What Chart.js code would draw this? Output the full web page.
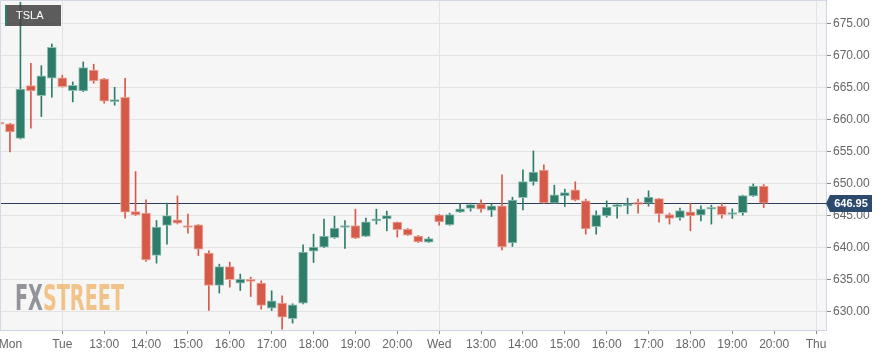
<!DOCTYPE html>
<html><head><meta charset="utf-8">
<script src="https://cdn.jsdelivr.net/npm/chart.js@4.4.1/dist/chart.umd.min.js"></script>
<style>html,body{margin:0;padding:0;background:#fff;overflow:hidden}canvas{display:block}</style>
</head><body>
<canvas id="c" width="891" height="356"></canvas>
<script>
// ---- data (15-minute candles, slot index = position on the ordinal time axis) ----
const symbol = 'TSLA';
const lastPrice = 646.95;
const openP  = [659.40,659.36,657.10,665.35,663.79,666.51,666.55,664.57,664.52,667.80,
                666.40,662.85,663.53,645.64,645.39,638.76,643.45,644.34,643.45,643.56,
                639.13,634.06,637.04,634.44,634.96,634.44,630.53,631.31,628.86,631.31,
                639.45,640.07,641.57,643.14,643.45,641.73,644.18,644.50,643.98,642.89,
                641.79,640.85,645.12,643.56,645.55,646.11,646.84,645.80,646.53,640.74,
                647.83,650.29,652.12,646.95,648.10,649.03,647.31,643.29,644.97,646.42,
                646.53,646.90,646.95,647.67,645.17,644.70,645.59,645.08,646.00,646.48,
                645.18,645.48,648.10,649.61];
const highP  = [659.75,659.45,678.40,668.85,668.48,671.87,666.98,665.93,669.06,668.70,
                666.50,665.10,666.50,651.90,647.47,644.23,646.95,648.10,645.23,643.60,
                639.49,637.41,637.72,635.85,635.38,634.80,633.24,632.45,631.20,640.43,
                642.10,644.45,644.92,644.23,646.01,644.61,646.01,645.70,644.00,643.00,
                641.90,641.64,645.20,645.39,646.84,646.95,647.47,646.84,651.38,647.89,
                652.16,655.13,652.94,649.77,649.14,650.29,647.58,645.75,647.31,646.95,
                647.74,647.58,648.88,647.70,645.39,646.17,646.95,646.53,646.64,646.95,
                646.06,648.20,649.97,649.86];
const lowP   = [658.20,654.98,657.00,658.69,660.50,663.53,665.10,662.80,664.40,665.72,
                662.60,662.28,644.61,645.00,637.82,637.57,640.54,643.70,642.26,638.76,
                630.15,632.88,633.81,633.28,632.34,630.37,630.15,627.24,628.18,631.20,
                637.66,640.00,641.42,639.85,641.40,641.70,643.67,642.62,641.64,641.90,
                640.80,640.80,643.51,643.50,645.50,645.70,645.55,644.86,639.65,640.17,
                645.91,649.77,646.90,646.90,646.42,647.30,642.10,642.10,644.76,644.61,
                645.28,645.39,646.48,643.98,643.67,644.29,642.62,644.19,643.67,644.61,
                644.55,645.08,648.00,646.27];
const closeP = [659.30,658.11,664.80,664.52,666.87,671.36,665.19,665.41,668.16,666.08,
                662.91,663.00,645.55,645.12,638.08,643.20,645.01,643.83,643.14,639.76,
                634.06,637.04,634.96,635.07,634.70,630.94,631.67,629.12,631.05,639.29,
                640.07,641.79,643.04,643.35,641.48,644.03,644.45,645.01,642.82,641.95,
                640.90,641.42,644.03,645.17,646.06,646.73,646.02,646.53,640.12,647.42,
                650.33,651.80,647.00,648.25,648.61,647.42,642.93,645.12,646.33,646.64,
                646.80,646.75,647.89,645.28,644.55,645.80,644.97,646.02,646.22,645.17,
                645.42,648.14,649.61,646.95];
const tickSlots  = [0,6,10,14,18,22,26,30,34,38,42,46,50,54,58,62,66,70,74,78];
const tickLabels = ['Mon','Tue','13:00','14:00','15:00','16:00','17:00','18:00','19:00','20:00',
                    'Wed','13:00','14:00','15:00','16:00','17:00','18:00','19:00','20:00','Thu'];
const dayLabels  = ['Tue','Wed','Thu'];
const yTicks = [630,635,640,645,650,655,660,665,670,675];

// ---- styling ----
const UP = '#2e7d6b', DOWN = '#d65a48';
const UP_EDGE = '#93c1b5', DOWN_EDGE = '#eaa69c';
const FONT = "'Liberation Sans', Arial, sans-serif";
const isUp = i => closeP[i] >= openP[i];

const bodies = openP.map((o, i) => ({x: i, y: [o, closeP[i]]}));
const wicks  = lowP.map((l, i) => ({x: i, y: [l, highP[i]]}));

const deco = {
  id: 'deco',
  beforeDraw(chart) {
    const {ctx, chartArea: a} = chart;
    ctx.save();
    ctx.fillStyle = '#ffffff';
    ctx.fillRect(0, 0, chart.width, chart.height);
    ctx.fillStyle = '#f6f6f6';
    ctx.fillRect(a.left, a.top, a.right - a.left, a.bottom - a.top);
    ctx.restore();
  },
  beforeDatasetsDraw(chart) {
    const {ctx, chartArea: a, scales} = chart;
    ctx.save();
    // watermark
    ctx.font = "bold 35px 'Liberation Sans Narrow', 'DejaVu Sans Condensed', " + FONT;
    ctx.textBaseline = 'alphabetic';
    const wFX = ctx.measureText('FX').width, wST = ctx.measureText('STREET').width;
    const sx = 109 / (wFX + wST);
    ctx.translate(a.left + 15, 310);
    ctx.scale(sx, 1);
    ctx.fillStyle = 'rgba(128,131,138,0.85)';
    ctx.fillText('FX', 0, 0);
    ctx.fillStyle = 'rgba(240,178,100,0.75)';
    ctx.fillText('STREET', wFX, 0);
    ctx.restore();
    // last price line
    const y = Math.round(scales.y.getPixelForValue(lastPrice)) + 0.5;
    ctx.save();
    ctx.strokeStyle = '#2b3f5c';
    ctx.lineWidth = 1;
    ctx.beginPath(); ctx.moveTo(a.left, y); ctx.lineTo(a.right, y); ctx.stroke();
    ctx.restore();
  },
  afterDraw(chart) {
    const {ctx, chartArea: a, scales} = chart;
    ctx.save();
    // top / left frame
    ctx.strokeStyle = '#d3d9e6';
    ctx.lineWidth = 1;
    ctx.beginPath();
    ctx.moveTo(a.left + 0.5, a.bottom); ctx.lineTo(a.left + 0.5, a.top + 0.5); ctx.lineTo(a.right, a.top + 0.5);
    ctx.stroke();
    // symbol tag
    ctx.fillStyle = 'rgba(66,66,66,0.86)';
    ctx.fillRect(a.left + 5, a.top + 5, 56, 21);
    ctx.fillStyle = UP;
    ctx.fillRect(a.left + 5, a.top + 5, 2, 21);
    ctx.fillStyle = '#ffffff';
    ctx.font = '11px ' + FONT;
    ctx.textBaseline = 'middle';
    ctx.fillText(symbol, a.left + 16, a.top + 16);
    // last price tag
    const y = Math.round(scales.y.getPixelForValue(lastPrice)) + 0.5;
    ctx.fillStyle = '#2c4a6e';
    ctx.beginPath();
    ctx.moveTo(a.right, y);
    ctx.lineTo(a.right + 4, y - 8.5);
    ctx.lineTo(a.right + 46, y - 8.5);
    ctx.lineTo(a.right + 46, y + 8.5);
    ctx.lineTo(a.right + 4, y + 8.5);
    ctx.closePath();
    ctx.fill();
    ctx.fillStyle = '#ffffff';
    ctx.font = 'bold 11px ' + FONT;
    ctx.textAlign = 'center';
    ctx.fillText(lastPrice.toFixed(2), a.right + 25, y + 0.5);
    ctx.restore();
  }
};

new Chart(document.getElementById('c'), {
  data: {
    datasets: [
      {
        type: 'bar', label: 'body', data: bodies, order: 0, grouped: false,
        barThickness: 9, minBarLength: 2, borderWidth: 1, borderSkipped: false,
        backgroundColor: c => isUp(c.dataIndex) ? UP : DOWN,
        borderColor: c => isUp(c.dataIndex) ? UP_EDGE : DOWN_EDGE
      },
      {
        type: 'bar', label: 'wick', data: wicks, order: 1, grouped: false,
        barThickness: 1, borderWidth: 0,
        backgroundColor: c => isUp(c.dataIndex) ? UP : DOWN
      }
    ]
  },
  options: {
    responsive: false,
    animation: false,
    events: [],
    layout: {padding: 0},
    plugins: {legend: {display: false}, tooltip: {enabled: false}},
    scales: {
      x: {
        type: 'linear', min: 0.05, max: 78.95, offset: false,
        afterBuildTicks: s => { s.ticks = tickSlots.map(v => ({value: v === 0 ? 1.05 : v})); },
        afterFit: s => { s.height = 26; s.paddingLeft = 0; s.paddingRight = 0; },
        ticks: {
          autoSkip: false, maxRotation: 0, padding: 3, color: '#666',
          font: {family: FONT, size: 12},
          callback: (v, i) => tickLabels[i]
        },
        grid: {
          offset: false, lineWidth: 1, tickLength: 4, drawOnChartArea: true,
          color: c => (c.tick && dayLabels.includes(tickLabels[c.index])) ? '#e3e3e3' : 'rgba(0,0,0,0)',
          tickColor: c => c.index === 0 ? 'rgba(0,0,0,0)' : '#8a8a8a'
        },
        border: {color: '#cdd5e4', width: 1}
      },
      y: {
        type: 'linear', position: 'right', min: 627.1, max: 678.75,
        afterBuildTicks: s => { s.ticks = yTicks.map(v => ({value: v})); },
        afterFit: s => { s.width = 65; s.paddingTop = 0; s.paddingBottom = 0; },
        ticks: {
          padding: 2, color: '#666', font: {family: FONT, size: 12},
          callback: v => Number(v).toFixed(2)
        },
        grid: {color: '#e3e3e3', lineWidth: 1, tickLength: 5, tickColor: '#8a8a8a'},
        border: {color: '#cdd5e4', width: 1}
      }
    }
  },
  plugins: [deco]
});
</script>
</body></html>
